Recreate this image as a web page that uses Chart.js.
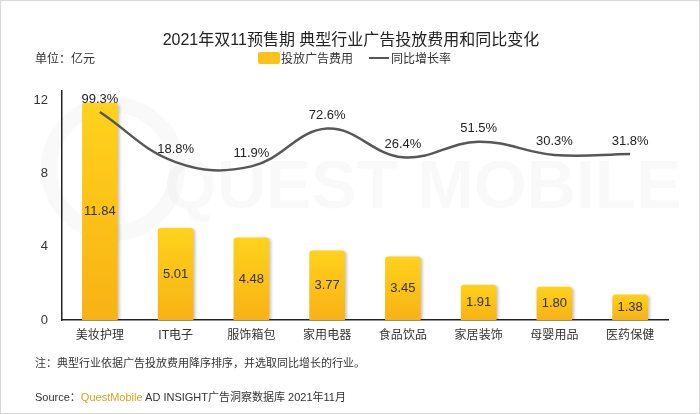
<!DOCTYPE html>
<html>
<head>
<meta charset="utf-8">
<script src="https://cdn.jsdelivr.net/npm/chart.js@4.4.1/dist/chart.umd.min.js"></script>
<style>
  html, body { margin: 0; padding: 0; background: #fff; }
  #wrap { position: relative; width: 700px; height: 414px; box-sizing: border-box; border: 1px solid #d8d8d8; overflow: hidden;
          font-family: "Liberation Sans", "Noto Sans CJK SC", sans-serif; color: #333; }
  #wrap canvas { position: absolute; left: 0; top: 0; }
  .txt { position: absolute; white-space: nowrap; }
  #title { left: 0; width: 700px; top: 25px; text-align: center; font-size: 16px; color: #222; }
  #unit { left: 34px; top: 48px; font-size: 12px; }
  #legend { left: 257px; top: 48px; font-size: 12px; display: flex; align-items: center; }
  .swatch { width: 22px; height: 12px; background: #fbc21a; border-radius: 2px; margin-right: 1px; }
  .lline { width: 20px; height: 2px; background: #555; margin: 0 2px 0 16px; }
  #note { left: 34px; top: 353px; font-size: 11px; }
  #source { left: 34px; top: 387px; font-size: 11px; }
  #source span { color: #d9a31c; }
</style>
</head>
<body>
<div id="wrap">
  <canvas id="c" width="700" height="414"></canvas>
  <div class="txt" id="title">2021年双11预售期 典型行业广告投放费用和同比变化</div>
  <div class="txt" id="unit">单位：亿元</div>
  <div class="txt" id="legend"><div class="swatch"></div>投放广告费用<div class="lline"></div>同比增长率</div>
  <div class="txt" id="note">注：典型行业依据广告投放费用降序排序，并选取同比增长的行业。</div>
  <div class="txt" id="source">Source：<span>QuestMobile</span> AD INSIGHT广告洞察数据库 2021年11月</div>
</div>
<script>
const categories = ["美妆护理", "IT电子", "服饰箱包", "家用电器", "食品饮品", "家居装饰", "母婴用品", "医药保健"];
const spend = [11.84, 5.01, 4.48, 3.77, 3.45, 1.91, 1.80, 1.38];
const growth = [99.3, 18.8, 11.9, 72.6, 26.4, 51.5, 30.3, 31.8];
const yTicks = [0, 4, 8, 12];

const FONT = '"Liberation Sans", "Noto Sans CJK SC", sans-serif';

// faint QuestMobile watermark behind the plot
const watermark = {
  id: "watermark",
  beforeDatasetsDraw(chart) {
    const ctx = chart.ctx;
    ctx.save();
    ctx.strokeStyle = "rgba(0,0,0,0.025)";
    ctx.lineWidth = 16;
    ctx.beginPath();
    ctx.arc(112, 168, 64, 0, Math.PI * 2);
    ctx.stroke();
    ctx.fillStyle = "rgba(0,0,0,0.025)";
    ctx.font = "bold 68px " + FONT;
    ctx.textBaseline = "middle";
    ctx.fillText("QUEST MOBILE", 163, 188);
    ctx.restore();
  }
};

const barShadow = {
  id: "barShadow",
  beforeDatasetDraw(chart, args) {
    if (args.index !== 0) return;
    const ctx = chart.ctx;
    ctx.save();
    ctx.shadowColor = "rgba(0,0,0,0.22)";
    ctx.shadowBlur = 3;
    ctx.shadowOffsetX = 2;
    ctx.shadowOffsetY = 1;
  },
  afterDatasetDraw(chart, args) {
    if (args.index !== 0) return;
    chart.ctx.restore();
  }
};

const valueLabels = {
  id: "valueLabels",
  afterDatasetsDraw(chart) {
    const ctx = chart.ctx;
    ctx.save();
    ctx.font = "13px " + FONT;
    ctx.fillStyle = "#333";
    ctx.textAlign = "center";
    ctx.textBaseline = "middle";
    chart.getDatasetMeta(0).data.forEach((bar, i) => {
      ctx.fillText(spend[i].toFixed(2), bar.x, (bar.y + bar.base) / 2);
    });
    ctx.fillStyle = "#222";
    chart.getDatasetMeta(1).data.forEach((pt, i) => {
      ctx.fillText(growth[i].toFixed(1) + "%", pt.x, pt.y - 13);
    });
    ctx.restore();
  }
};

function barGradient(context) {
  const chart = context.chart;
  const area = chart.chartArea;
  if (!area || context.dataIndex === undefined) return "#fbc21a";
  const y = chart.scales.y;
  const top = y.getPixelForValue(spend[context.dataIndex]);
  const bottom = y.getPixelForValue(0);
  const g = chart.ctx.createLinearGradient(0, top, 0, bottom);
  g.addColorStop(0, "#ffd21c");
  g.addColorStop(1, "#f8b214");
  return g;
}

new Chart(document.getElementById("c"), {
  data: {
    labels: categories,
    datasets: [
      {
        type: "bar",
        label: "投放广告费用",
        data: spend,
        yAxisID: "y",
        backgroundColor: barGradient,
        borderRadius: 3,
        borderSkipped: "bottom",
        barThickness: 35,
        order: 1
      },
      {
        type: "line",
        label: "同比增长率",
        data: growth,
        yAxisID: "y2",
        borderColor: "#575757",
        borderWidth: 2.5,
        pointRadius: 0,
        tension: 0.4,
        order: 0
      }
    ]
  },
  options: {
    responsive: false,
    animation: false,
    layout: { padding: { left: 21, right: 33, top: 90, bottom: 65 } },
    plugins: { legend: { display: false }, tooltip: { enabled: false } },
    scales: {
      x: {
        grid: { display: false, drawTicks: false },
        border: { color: "#222", width: 1.5 },
        ticks: { color: "#333", font: { family: FONT, size: 12 }, padding: 8 },
        afterFit(s) { s.height = 30; }
      },
      y: {
        min: 0,
        max: 12.5,
        afterBuildTicks(s) { s.ticks = yTicks.map(v => ({ value: v })); },
        grid: { display: false, drawTicks: false },
        border: { color: "#222", width: 1.5 },
        ticks: { color: "#333", font: { family: FONT, size: 13 }, padding: 14 },
        afterFit(s) { s.width = 40; }
      },
      y2: {
        display: false,
        min: -235,
        max: 133
      }
    }
  },
  plugins: [watermark, barShadow, valueLabels]
});
</script>
</body>
</html>
